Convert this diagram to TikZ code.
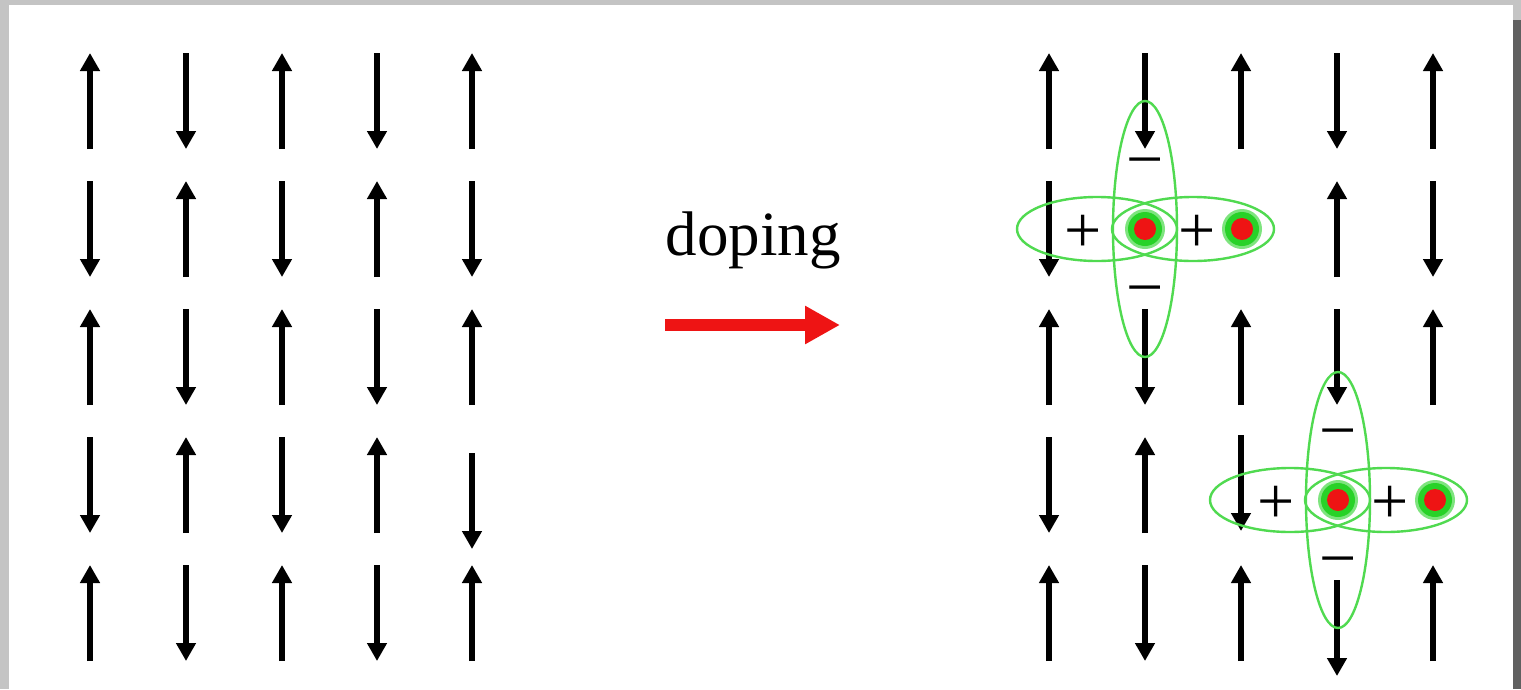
\documentclass[tikz,border=0pt]{standalone}
\usepackage{fontspec}
\setmainfont{Liberation Serif}
\usetikzlibrary{arrows.meta}
\definecolor{frameL}{RGB}{196,196,196}
\definecolor{frameD}{RGB}{96,96,96}
\definecolor{halo}{RGB}{40,210,40}
\definecolor{orbit}{RGB}{80,218,80}
\definecolor{dopered}{RGB}{238,20,20}
\tikzset{
  spin/.style={line width=6.5pt, -{Triangle[width=19pt,length=18pt]}},
  dopearrow/.style={draw=dopered, line width=12pt, -{Triangle[width=36pt,length=35pt]}},
  orb/.style={draw=orbit, line width=2.4pt},
  sign/.style={font=\fontsize{66}{66}\selectfont, anchor=base, inner sep=0pt},
}
\newcommand\spinup[2]{\draw[spin] (#1,#2+96) -- (#1,#2);}
\newcommand\spindown[2]{\draw[spin] (#1,#2) -- (#1,#2+96);}
\newcommand\dopecluster[3]{%
  \begin{scope}[shift={(#2,#3)}]
    \draw[orb] (0,0) ellipse [x radius=32, y radius=128];
    \draw[orb] (-48,0) ellipse [x radius=80, y radius=32];
    \draw[orb] (48,0) ellipse [x radius=81, y radius=32];
    \fill[halo!60] (0,0) circle [radius=20];
    \fill[halo] (0,0) circle [radius=17];
    \fill[dopered] (0,0) circle [radius=11];
    \fill[halo!60] (97,0) circle [radius=20];
    \fill[halo] (97,0) circle [radius=17];
    \fill[dopered] (97,0) circle [radius=11];
    \node[sign] (#1mt) at (0,-66+18) {−};
    \node[sign] (#1mb) at (0,62+18) {−};
    \node[sign] (#1pl) at (-62,6+17) {+};
    \node[sign] (#1pr) at (52,6+17) {+};
  \end{scope}}
\begin{document}
\begin{tikzpicture}[x=1pt,y=-1pt]
  \useasboundingbox (0,0) rectangle (1521,689);
  \fill[frameL] (0,0) rectangle (1521,689);
  \fill[white] (9,5) rectangle (1513,689);
  \fill[frameD] (1513,20) rectangle (1521,689);
  % left lattice
  \spinup{90}{53}  \spindown{186}{53}  \spinup{282}{53}  \spindown{377}{53}  \spinup{472}{53}
  \spindown{90}{181} \spinup{186}{181} \spindown{282}{181} \spinup{377}{181} \spindown{472}{181}
  \spinup{90}{309}  \spindown{186}{309}  \spinup{282}{309}  \spindown{377}{309}  \spinup{472}{309}
  \spindown{90}{437} \spinup{186}{437} \spindown{282}{437} \spinup{377}{437} \spindown{472}{453}
  \spinup{90}{565}  \spindown{186}{565}  \spinup{282}{565}  \spindown{377}{565}  \spinup{472}{565}
  % doping arrow and label
  \node[font=\fontsize{63}{63}\selectfont, anchor=base, inner sep=0pt] (lbl) at (753,255) {doping};
  \coordinate (dopeS) at (665,325);
  \coordinate (dopeE) at (840,325);
  \draw[dopearrow] (dopeS) -- (dopeE);
  % right lattice
  \spinup{1049}{53}  \spindown{1145}{53}  \spinup{1241}{53}  \spindown{1337}{53}  \spinup{1433}{53}
  \spindown{1049}{181} \spinup{1337}{181} \spindown{1433}{181}
  \spinup{1049}{309}  \spindown{1145}{309}  \spinup{1241}{309}  \spindown{1337}{309}  \spinup{1433}{309}
  \spindown{1049}{437} \spinup{1145}{437} \spindown{1241}{435}
  \spinup{1049}{565}  \spindown{1145}{565}  \spinup{1241}{565}  \spindown{1337}{580}  \spinup{1433}{565}
  % doped holes
  \dopecluster{a}{1145}{229}
  \dopecluster{b}{1338}{500}
\end{tikzpicture}
\end{document}
